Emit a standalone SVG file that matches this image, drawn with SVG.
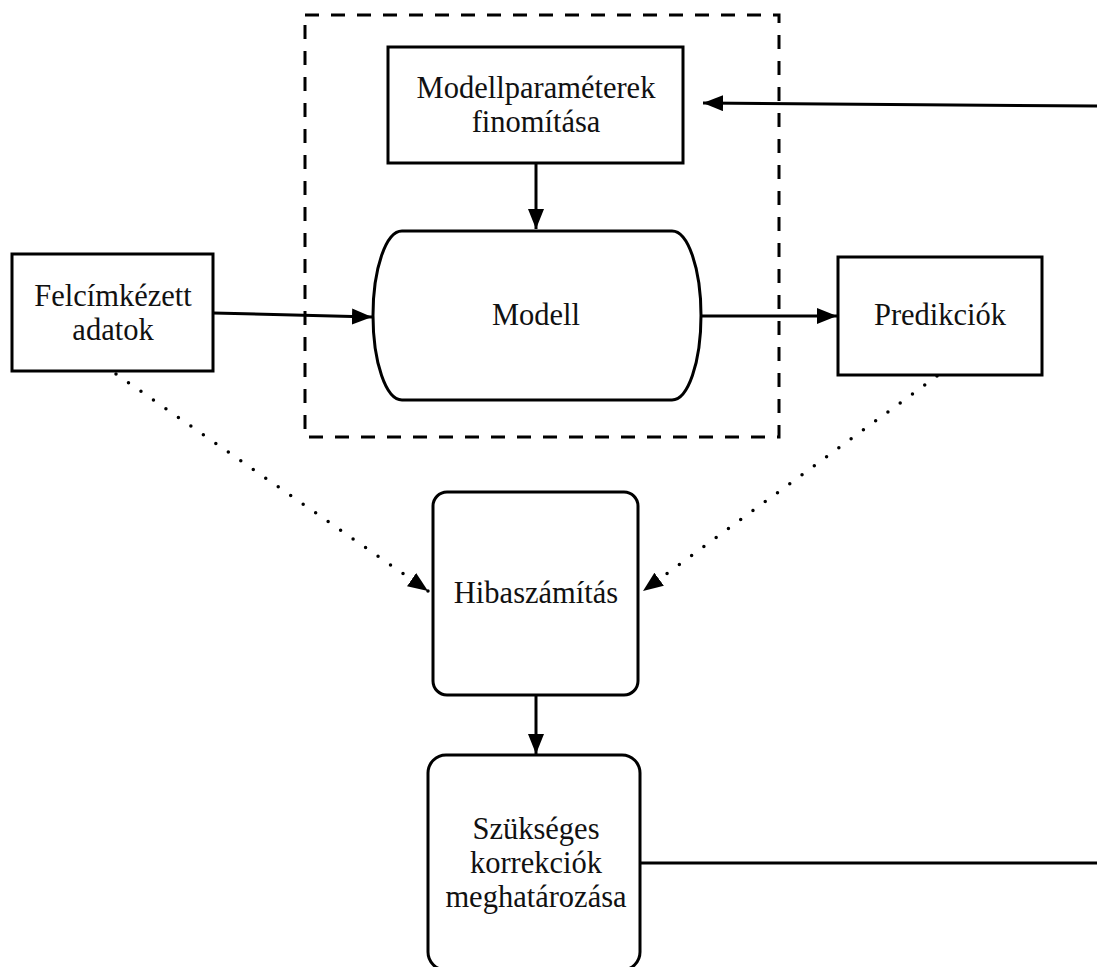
<svg xmlns="http://www.w3.org/2000/svg" width="1097" height="967" viewBox="0 0 1097 967">
<style>
.box{fill:#fff;stroke:#000;stroke-width:3}
.t{font-family:"Liberation Serif","Times New Roman",serif;font-size:30.5px;fill:#111;text-anchor:middle}
.c{fill:none;stroke:#000;stroke-width:3}
.dot{fill:none;stroke:#000;stroke-width:3.5;stroke-linecap:round;stroke-dasharray:0 15.2}
</style>
<defs>
<marker id="ah" markerUnits="userSpaceOnUse" markerWidth="22" markerHeight="18" refX="20" refY="8" orient="auto">
<path d="M0,0 L20,8 L0,16 z" fill="#000"/>
</marker>
</defs>
<rect width="1097" height="967" fill="#fff"/>
<g id="group-box">
<rect x="305" y="15" width="474" height="422" fill="none" stroke="#000" stroke-width="3" stroke-dasharray="14 12"/>
</g>
<g id="connectors">
<line class="c" x1="536" y1="163" x2="536" y2="229" marker-end="url(#ah)"/>
<line class="c" x1="213" y1="313" x2="372" y2="317" marker-end="url(#ah)"/>
<line class="c" x1="700" y1="316" x2="837" y2="316" marker-end="url(#ah)"/>
<line class="dot" x1="116" y1="374" x2="428" y2="591" marker-end="url(#ah)"/>
<line class="dot" x1="937" y1="376" x2="643" y2="591" marker-end="url(#ah)"/>
<line class="c" x1="536" y1="695" x2="536" y2="754" marker-end="url(#ah)"/>
<line class="c" x1="640" y1="863" x2="1097" y2="863"/>
<line class="c" x1="1097" y1="106" x2="703" y2="103" marker-end="url(#ah)"/>
</g>
<g id="node-params">
<rect class="box" x="388" y="47" width="295" height="116"/>
<text class="t" x="536" y="98">Modellparaméterek</text>
<text class="t" x="536" y="132">finomítása</text>
</g>
<g id="node-modell">
<path class="box" d="M402,231 L672,231 A29,84.5 0 0 1 672,400 L402,400 A29,84.5 0 0 1 402,231 Z"/>
<text class="t" x="536" y="325">Modell</text>
</g>
<g id="node-felcimkezett">
<rect class="box" x="12" y="254" width="201" height="117"/>
<text class="t" x="113" y="306">Felcímkézett</text>
<text class="t" x="113" y="340">adatok</text>
</g>
<g id="node-predikciok">
<rect class="box" x="838" y="257" width="204" height="118"/>
<text class="t" x="940" y="325">Predikciók</text>
</g>
<g id="node-hiba">
<rect class="box" x="433" y="492" width="205" height="203" rx="14" ry="14"/>
<text class="t" x="536" y="603">Hibaszámítás</text>
</g>
<g id="node-korrekcio">
<rect class="box" x="428" y="755" width="212" height="215" rx="18" ry="18"/>
<text class="t" x="536" y="839">Szükséges</text>
<text class="t" x="536" y="873">korrekciók</text>
<text class="t" x="536" y="907">meghatározása</text>
</g>
</svg>
